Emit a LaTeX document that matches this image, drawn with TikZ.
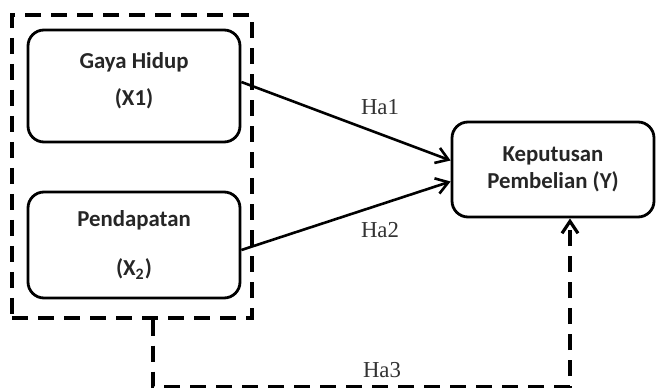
\documentclass[tikz,border=0pt]{standalone}
\usepackage{fontspec}
\setmainfont{Liberation Serif}
\newfontfamily\calibri{Carlito}
\usetikzlibrary{positioning, arrows.meta}

\begin{document}
\begin{tikzpicture}[
  x=0.5pt, y=-0.5pt,
  font=\fontsize{11.4}{13.7}\selectfont,
  box/.style={draw, rounded corners=8pt, line width=1.4pt, align=center, text=black!85,
              font=\calibri\bfseries\fontsize{11.4}{13.7}\selectfont, inner sep=4pt},
  grpbox/.style={draw, line width=1.6pt, dash pattern=on 8pt off 5pt,
                 minimum width=120pt, minimum height=151.5pt},
  arr/.style={-{Straight Barb[length=6pt, width=8pt]}, line width=1.3pt},
  dasharr/.style={arr, dash pattern=on 8pt off 5pt, line width=1.6pt},
  lab/.style={text=black!80}
]
\useasboundingbox (0,0) rectangle (657,389);

\node[grpbox] (grp) at (132,166.5) {};
\node[box, minimum width=106pt, minimum height=56pt] (gaya) at (134,86) {Gaya Hidup\\[5pt](X1)\\[-7pt]\mbox{}};
\node[box, minimum width=106pt, minimum height=53pt] (pend) at (134,245) {Pendapatan\\[11pt](X\textsubscript{2})};
\node[box, minimum width=101pt, minimum height=47.5pt] (kep) at (553,169.5) {Keputusan\\Pembelian (Y)};

\draw[arr] ([yshift=2pt]gaya.east) -- ([yshift=4.5pt]kep.west);
\draw[arr] ([yshift=-2.5pt]pend.east) -- ([yshift=-6pt]kep.west);
\draw[dasharr] ([xshift=10.5pt]grp.south) |- ([xshift=8.5pt, yshift=-84pt]kep.south)
  -- ([xshift=8.5pt]kep.south);

\node[lab] (ha1) at (380,107) {Ha1};
\node[lab] (ha2) at (380,230) {Ha2};
\node[lab] (ha3) at (382,370) {Ha3};
\end{tikzpicture}
\end{document}
